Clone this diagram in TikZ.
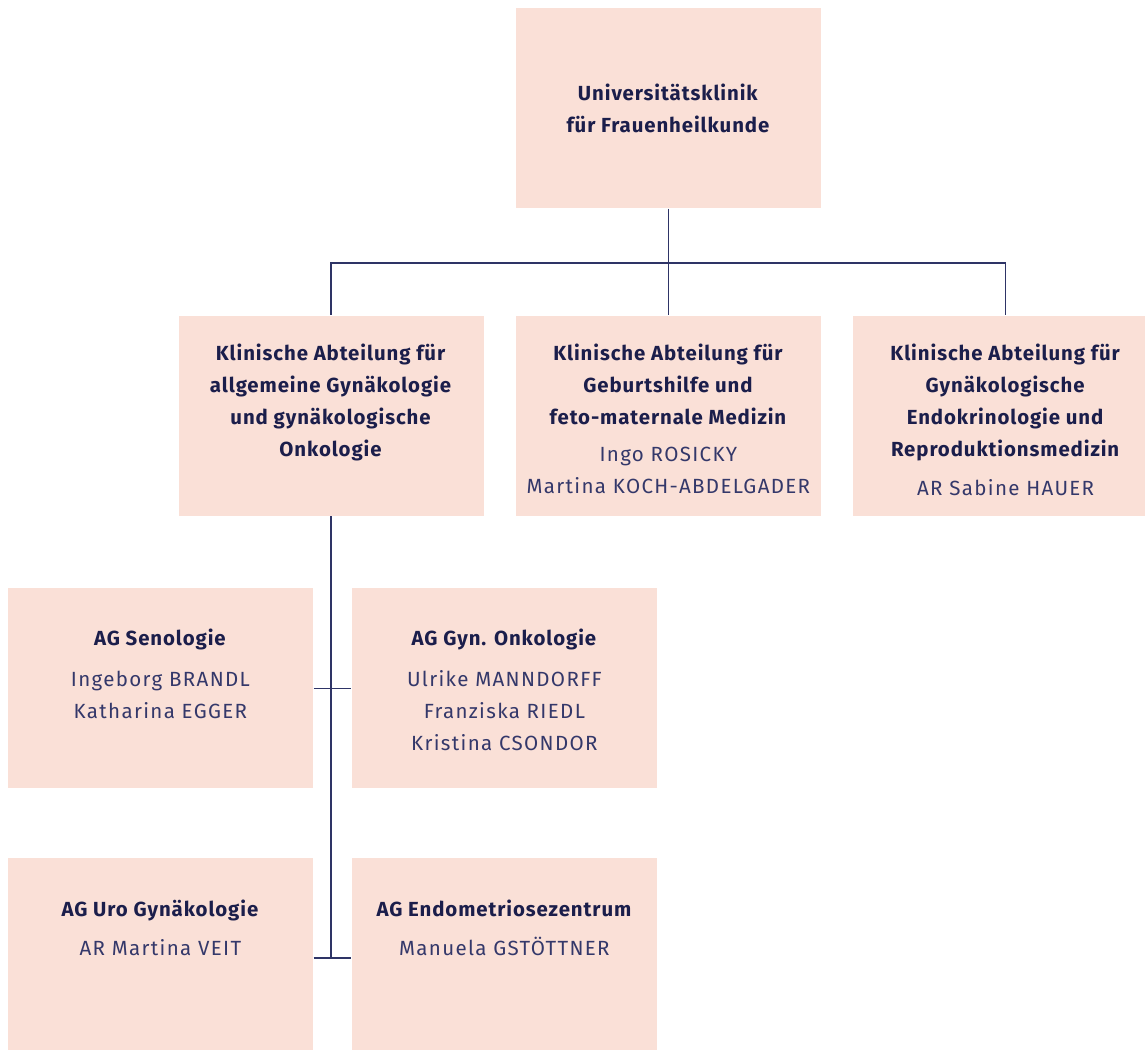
\documentclass[tikz,border=0pt]{standalone}
\usepackage{fontspec}
\setmainfont{Fira Sans}[LetterSpace=4.5]
\newfontfamily\namefont{Fira Sans}[LetterSpace=6.5]
\usetikzlibrary{positioning}
\definecolor{cnavy}{HTML}{1B1E4B}
\definecolor{cname}{HTML}{34386A}
\definecolor{cline}{HTML}{2E3466}
\definecolor{cpeach}{HTML}{FAE0D7}
\tikzset{
  every picture/.style={line width=1pt},
  box/.style={fill=cpeach, draw=none, minimum width=7.625cm, minimum height=5cm, inner sep=0pt},
  txt/.style={text=cnavy, align=center, font=\fontsize{14.5}{22.8}\selectfont, inner sep=0pt},
  link/.style={draw=cline, line width=1.05pt},
}
\newcommand{\nm}[1]{{\namefont\fontsize{14.6}{22.8}\selectfont\textcolor{cname}{#1}}}

\begin{document}
\begin{tikzpicture}
  \useasboundingbox (0,0) rectangle (28.625,-26.25);
  \clip (0,0) rectangle (28.625,-26.25);
  % top level
  \node[box] (uni) at (16.71,-2.7) {};
  \node[txt] (uni-t) at (uni) {\textbf{Universitätsklinik}\\ \textbf{für Frauenheilkunde}};
  % departments
  \node[box] (abt1) at (8.275,-10.39) {};
  \node[box] (abt2) at (16.71,-10.39) {};
  \node[box] (abt3) at (25.14,-10.39) {};
  \node[txt, below=0.7cm of abt1.north] (abt1-t) {\textbf{Klinische Abteilung für}\\ \textbf{allgemeine Gynäkologie}\\ \textbf{und gynäkologische}\\ \textbf{Onkologie}};
  \node[txt, below=0.7cm of abt2.north] (abt2-t) {\textbf{Klinische Abteilung für}\\ \textbf{Geburtshilfe und}\\ \textbf{feto-maternale Medizin}\\[4pt] \nm{Ingo ROSICKY}\\ \nm{Martina KOCH-ABDELGADER}};
  \node[txt, below=0.7cm of abt3.north] (abt3-t) {\textbf{Klinische Abteilung für}\\ \textbf{Gynäkologische}\\ \textbf{Endokrinologie und}\\ \textbf{Reproduktionsmedizin}\\[5pt] \nm{AR Sabine HAUER}};
  % working groups
  \node[box] (seno) at (4.01,-17.21) {};
  \node[box] (onko) at (12.61,-17.21) {};
  \node[box] (uro) at (4.01,-23.95) {};
  \node[box] (endo) at (12.61,-23.95) {};
  \node[txt, below=1.02cm of seno.north] (seno-t) {\textbf{AG Senologie}\\[6pt] \nm{Ingeborg BRANDL}\\ \nm{Katharina EGGER}};
  \node[txt, below=1.02cm of onko.north] (onko-t) {\textbf{AG Gyn. Onkologie}\\[6pt] \nm{Ulrike MANNDORFF}\\ \nm{Franziska RIEDL}\\ \nm{Kristina CSONDOR}};
  \node[txt, below=1.05cm of uro.north] (uro-t) {\textbf{AG Uro Gynäkologie}\\[5pt] \nm{AR Martina VEIT}};
  \node[txt, below=1.05cm of endo.north] (endo-t) {\textbf{AG Endometriosezentrum}\\[5pt] \nm{Manuela GSTÖTTNER}};
  % connectors
  \coordinate (bar) at (16.71,-6.575);
  \draw[link] (uni.south) -- (abt2.north);
  \draw[link] (abt1.north) |- (bar) -| (abt3.north);
  \draw[link] (abt1.south) -- (abt1.south |- endo.west);
  \draw[link] (seno.east) -- (onko.west);
  \draw[link] (uro.east) -- (endo.west);
\end{tikzpicture}
\end{document}
